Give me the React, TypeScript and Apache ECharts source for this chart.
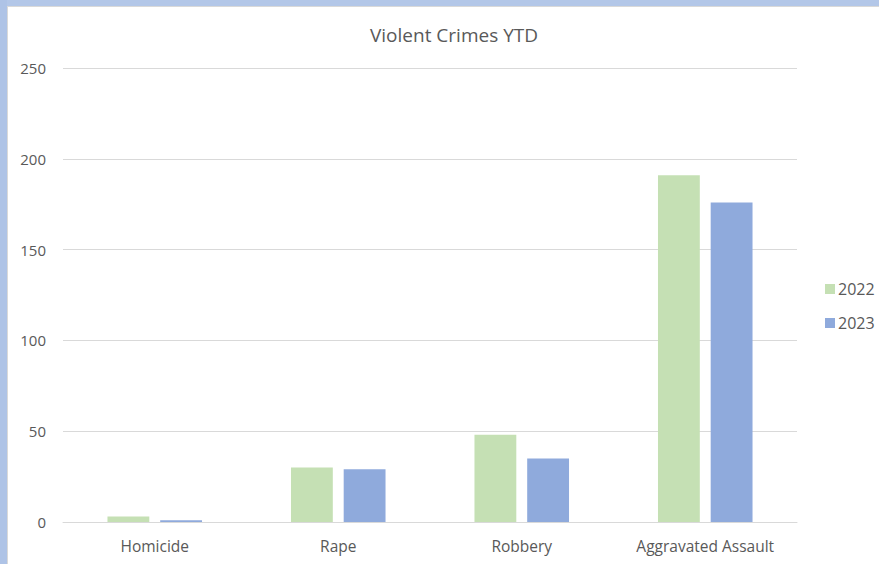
import React, { useEffect, useRef } from "react";
import * as echarts from "echarts";

const categories = ["Homicide", "Rape", "Robbery", "Aggravated Assault"];
const series2022 = [3, 30, 48, 191];
const series2023 = [1, 29, 35, 176];
const seriesNames = ["2022", "2023"];

export default function App() {
  const ref = useRef<HTMLDivElement>(null);
  useEffect(() => {
    const chart = echarts.init(ref.current!, null, { renderer: "svg" });
    const font = "'Open Sans', 'Noto Sans', sans-serif";
    chart.setOption({
      animation: false,
      backgroundColor: "#ffffff",
      graphic: [
        { type: "rect", left: 0, top: 0, shape: { width: 879, height: 6 }, style: { fill: "#b3c7e8" }, silent: true, z: -10 },
        { type: "rect", left: 0, top: 0, shape: { width: 7, height: 564 }, style: { fill: "#aec3e6" }, silent: true, z: -10 },
        { type: "line", shape: { x1: 7.5, y1: 6, x2: 7.5, y2: 564 }, style: { stroke: "#d9d9d9", lineWidth: 1 }, silent: true, z: -9 },
        { type: "line", shape: { x1: 7, y1: 6.5, x2: 879, y2: 6.5 }, style: { stroke: "#d9d9d9", lineWidth: 1 }, silent: true, z: -9 },
      ],
      title: {
        text: "Violent Crimes YTD",
        left: 449,
        textAlign: "center",
        top: 20,
        textStyle: { fontFamily: font, fontSize: 19, fontWeight: "normal", color: "#595959" },
      },
      legend: {
        orient: "vertical",
        left: 820,
        top: 276,
        itemWidth: 10,
        itemHeight: 10,
        itemGap: 18,
        icon: "rect",
        data: seriesNames,
        textStyle: { fontFamily: font, fontSize: 16, color: "#595959", padding: [0, 0, 0, -2] },
      },
      grid: { left: 63, right: 82, top: 68, bottom: 42, containLabel: false },
      xAxis: {
        type: "category",
        data: categories,
        axisLine: { lineStyle: { color: "#d9d9d9", width: 1 } },
        axisTick: { show: false },
        axisLabel: { fontFamily: font, fontSize: 15.5, color: "#595959", margin: 16 },
      },
      yAxis: {
        type: "value",
        min: 0,
        max: 250,
        interval: 50,
        axisLine: { show: false },
        axisTick: { show: false },
        splitLine: { lineStyle: { color: "#d9d9d9", width: 1 } },
        axisLabel: { fontFamily: font, fontSize: 15, color: "#595959", margin: 17 },
      },
      series: [
        {
          name: seriesNames[0],
          type: "bar",
          data: series2022,
          itemStyle: { color: "#c5e0b4" },
          barWidth: "22.8%",
          barGap: "26%",
        },
        {
          name: seriesNames[1],
          type: "bar",
          data: series2023,
          itemStyle: { color: "#8faadc" },
          barWidth: "22.8%",
          barGap: "26%",
        },
      ],
    });
    return () => chart.dispose();
  }, []);
  return (
    <div
      ref={ref}
      style={{ position: "fixed", left: 0, top: 0, width: 879, height: 564 }}
    />
  );
}
